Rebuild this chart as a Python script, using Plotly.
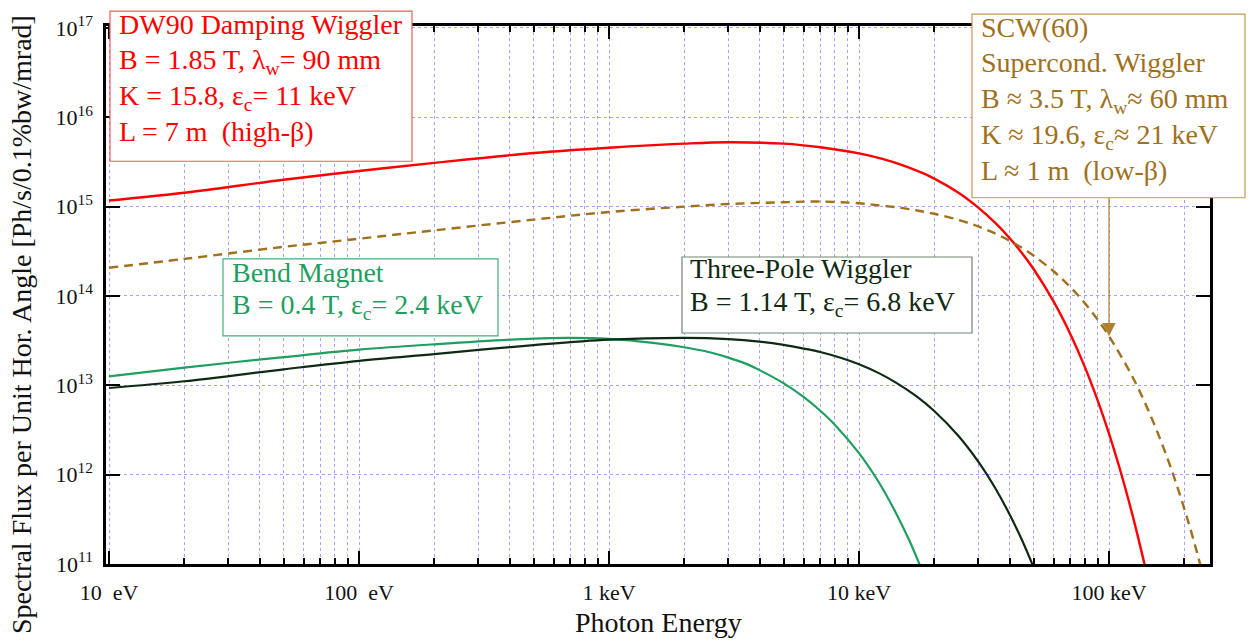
import math
import plotly.graph_objects as go

# Photon energy (eV) and spectral flux per unit horizontal angle [Ph/s/0.1%bw/mrad]
dw90_energy = [10, 20, 50, 100, 200, 500, 1e3, 2e3, 3e3, 5e3, 7e3, 1e4, 1.25e4, 1.5e4,
               1.75e4, 2e4, 2.5e4, 3e4, 3.5e4, 4e4, 4.5e4, 5e4, 6e4, 7e4, 8e4, 9e4,
               1e5, 1.1e5, 1.2e5, 1.3e5, 1.4e5, 1.5e5]
dw90_flux = [1.17e15, 1.43e15, 2.00e15, 2.51e15, 3.09e15, 3.98e15, 4.57e15, 5.07e15,
             5.25e15, 5.07e15, 4.62e15, 3.94e15, 3.40e15, 2.90e15, 2.45e15, 2.06e15,
             1.43e15, 9.75e14, 6.61e14, 4.46e14, 2.99e14, 1.99e14, 8.69e13, 3.76e13,
             1.61e13, 6.84e12, 2.88e12, 1.21e12, 5.08e11, 2.12e11, 8.85e10, 3.68e10]

scw_energy = [10, 20, 50, 100, 200, 500, 1e3, 2e3, 3e3, 5e3, 7e3, 1e4, 1.25e4, 1.5e4,
              1.75e4, 2e4, 2.5e4, 3e4, 3.5e4, 4e4, 4.5e4, 5e4, 6e4, 7e4, 8e4, 9e4,
              1e5, 1.25e5, 1.5e5, 1.75e5, 2e5, 2.25e5, 2.5e5]
scw_flux = [2.07e14, 2.60e14, 3.55e14, 4.37e14, 5.43e14, 7.16e14, 8.71e14, 1.00e15,
            1.07e15, 1.12e15, 1.14e15, 1.09e15, 1.02e15, 9.64e14, 8.95e14, 8.32e14,
            7.11e14, 6.00e14, 5.01e14, 4.16e14, 3.44e14, 2.82e14, 1.89e14, 1.26e14,
            8.32e13, 5.45e13, 3.55e13, 1.20e13, 3.95e12, 1.29e12, 4.17e11, 1.34e11,
            4.26e10]

bm_energy = [10, 20, 50, 100, 200, 500, 700, 1e3, 1.5e3, 2e3, 2.5e3, 3e3, 3.5e3, 4e3,
             5e3, 6e3, 7e3, 8e3, 1e4, 1.2e4, 1.4e4, 1.6e4, 1.8e4]
bm_flux = [1.26e13, 1.58e13, 2.07e13, 2.51e13, 2.88e13, 3.34e13, 3.39e13, 3.31e13,
           2.99e13, 2.67e13, 2.36e13, 2.04e13, 1.76e13, 1.48e13, 1.05e13, 7.41e12,
           5.19e12, 3.63e12, 1.74e12, 8.22e11, 3.80e11, 1.76e11, 8.04e10]

tpw_energy = [10, 20, 50, 100, 200, 500, 1e3, 2e3, 3e3, 4e3, 5e3, 6e3, 7e3, 8.5e3,
              1e4, 1.2e4, 1.4e4, 1.7e4, 2e4, 2.5e4, 3e4, 3.5e4, 4e4, 4.5e4, 5e4, 5.5e4]
tpw_flux = [9.33e12, 1.11e13, 1.51e13, 1.88e13, 2.24e13, 2.82e13, 3.24e13, 3.39e13,
            3.29e13, 3.08e13, 2.83e13, 2.58e13, 2.36e13, 2.02e13, 1.72e13, 1.37e13,
            1.08e13, 7.52e12, 5.16e12, 2.71e12, 1.40e12, 7.14e11, 3.61e11, 1.82e11,
            9.08e10, 4.52e10]

x_tickvals = [10, 100, 1e3, 1e4, 1e5]
x_ticktext = ["10\u00a0 eV", "100\u00a0 eV", "1 keV", "10 keV", "100 keV"]
y_tickvals = [1e11, 1e12, 1e13, 1e14, 1e15, 1e16, 1e17]
y_ticktext = ["10<sup>11</sup>", "10<sup>12</sup>", "10<sup>13</sup>", "10<sup>14</sup>",
              "10<sup>15</sup>", "10<sup>16</sup>", "10<sup>17</sup>"]

SERIF = "Liberation Serif, Times New Roman, serif"
INK = "#111111"
RED = "#ff0000"
BROWN = "#a0701c"
GREEN = "#1f9f5f"
DARK = "#0f2a12"
GRID = "#a3a3ff"

W, H = 1250, 644
ML, MR, MT, MB = 106, 40, 19, 80
PW, PH = W - ML - MR, H - MT - MB
BOX_FONT = 28


def px(x):
    return (x - ML) / PW


def py(y):
    return (H - MB - y) / PH


fig = go.Figure()
fig.add_trace(go.Scatter(x=dw90_energy, y=dw90_flux, mode="lines", name="DW90",
                         line=dict(color=RED, width=2.4, shape="spline")))
fig.add_trace(go.Scatter(x=scw_energy, y=scw_flux, mode="lines", name="SCW(60)",
                         line=dict(color=BROWN, width=2.4, dash="9px,6px", shape="spline")))
fig.add_trace(go.Scatter(x=bm_energy, y=bm_flux, mode="lines", name="Bend Magnet",
                         line=dict(color=GREEN, width=2.2, shape="spline")))
fig.add_trace(go.Scatter(x=tpw_energy, y=tpw_flux, mode="lines", name="Three-Pole Wiggler",
                         line=dict(color=DARK, width=2.2, shape="spline")))

minor_x = [m * 10 ** k for k in range(1, 6) for m in range(2, 10) if m * 10 ** k < 2.6e5]

fig.update_xaxes(
    type="log", range=[0.988, 5.404],
    tickmode="array", tickvals=x_tickvals, ticktext=x_ticktext,
    ticks="inside", ticklen=13, tickwidth=2, tickcolor="black",
    showline=True, linecolor="black", linewidth=2.5, mirror="ticks",
    showgrid=True, gridcolor=GRID, gridwidth=1, griddash="dot",
    minor=dict(tickmode="array", tickvals=minor_x, ticks="inside", ticklen=6,
               tickwidth=2, tickcolor="black", showgrid=True, gridcolor=GRID,
               gridwidth=1, griddash="dot"),
    tickfont=dict(family=SERIF, size=22, color=INK),
    ticklabelstandoff=7,
)
fig.update_yaxes(
    type="log", range=[11, 17.022],
    tickmode="array", tickvals=y_tickvals, ticktext=y_ticktext,
    ticks="inside", ticklen=14, tickwidth=2, tickcolor="black",
    showline=True, linecolor="black", linewidth=2.5, mirror="ticks",
    showgrid=True, gridcolor=GRID, gridwidth=1, griddash="dot",
    tickfont=dict(family=SERIF, size=22, color=INK),
    ticklabelstandoff=6,
)

# axis titles
fig.add_annotation(xref="paper", yref="paper", x=px(658), y=py(606),
                   xanchor="center", yanchor="top", showarrow=False,
                   text="Photon Energy", font=dict(family=SERIF, size=28, color=INK))
fig.add_annotation(xref="paper", yref="paper", x=px(21), y=py(322),
                   xanchor="center", yanchor="middle", showarrow=False, textangle=-90,
                   text="Spectral Flux per Unit Hor. Angle [Ph/s/0.1%bw/mrad]",
                   font=dict(family=SERIF, size=28, color=INK))

# framed legend boxes: frame (left, top, right, bottom) px, frame colour, text colour,
# text left edge px, vertical centre of each text line px, the lines themselves
boxes = [
    ((110, 4, 412, 156), "#f05a5a", RED, 119, [24.5, 60.0, 96.5, 133.0],
     ["DW90 Damping Wiggler", "B = 1.85 T, λ<sub>w</sub>= 90 mm",
      "K = 15.8, ε<sub>c</sub>= 11 keV", "L = 7 m\u00a0 (high-β)"]),
    ((972, 7, 1245, 193), "#bf9a5a", BROWN, 981, [27.5, 62.5, 99.0, 135.5, 172.5],
     ["SCW(60)", "Supercond. Wiggler", "B ≈ 3.5 T, λ<sub>w</sub>≈ 60 mm",
      "K ≈ 19.6, ε<sub>c</sub>≈ 21 keV", "L ≈ 1 m\u00a0 (low-β)"]),
    ((223, 255, 498, 333), "#45b07a", GREEN, 232, [276.0, 308.0],
     ["Bend Magnet", "B = 0.4 T, ε<sub>c</sub>= 2.4 keV"]),
    ((682, 253, 972, 330), "#6f876f", DARK, 690, [272.0, 305.0],
     ["Three-Pole Wiggler", "B = 1.14 T, ε<sub>c</sub>= 6.8 keV"]),
]
for (x0, y0, x1, y1), edge, ink, tx, centres, lines in boxes:
    fig.add_shape(type="rect", xref="paper", yref="paper", layer="above",
                  x0=px(x0), x1=px(x1), y0=py(y1), y1=py(y0),
                  line=dict(color=edge, width=1.2), fillcolor="white")
    for cy, line in zip(centres, lines):
        fig.add_annotation(xref="paper", yref="paper", x=px(tx),
                           y=py(cy - 0.81 * BOX_FONT),
                           xanchor="left", yanchor="top", align="left", showarrow=False,
                           borderpad=0, borderwidth=0, text=line,
                           font=dict(family=SERIF, size=BOX_FONT, color=ink))

# pointer from the SCW box down to its curve at 100 keV
i100 = scw_energy.index(1e5)
fig.add_annotation(x=math.log10(scw_energy[i100]), y=math.log10(scw_flux[i100]),
                   xref="x", yref="y", text="", showarrow=True,
                   ax=0, ay=-140, axref="pixel", ayref="pixel",
                   arrowhead=2, arrowsize=2.2, arrowwidth=1.2, arrowcolor="#b08030",
                   standoff=0)

fig.update_layout(
    width=W, height=H, autosize=False,
    margin=dict(l=ML, r=MR, t=MT, b=MB, pad=0),
    paper_bgcolor="white", plot_bgcolor="white",
    showlegend=False,
)

fig.write_html("out.html")
